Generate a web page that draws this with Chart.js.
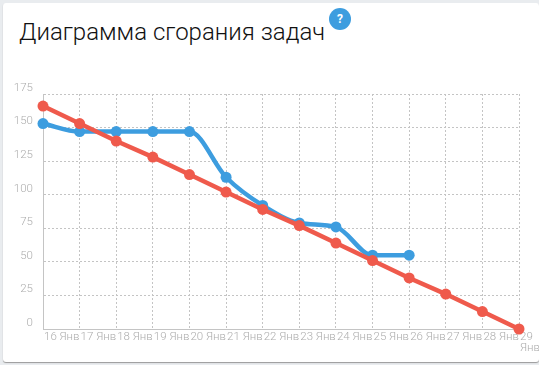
<!DOCTYPE html>
<html lang="ru">
<head>
<meta charset="utf-8">
<title>Диаграмма сгорания задач</title>
<script src="https://cdn.jsdelivr.net/npm/chart.js@4"></script>
<style>
  html, body { margin: 0; height: 100%; background: #e9ecef; overflow: hidden; }
  #card { position: absolute; left: 3px; top: 3px; width: 536px; height: 359px; background: #fff; border-radius: 3px; box-shadow: 0 1px 1px #999; }
  #title { position: absolute; left: 19px; top: 18px; font: 300 24px Roboto, sans-serif; color: #111; white-space: nowrap; }
  #help { position: absolute; left: 329px; top: 8px; width: 22px; height: 22px; border-radius: 50%; background: #3d9ddf; color: #fff; font: 700 12px/22px Roboto, sans-serif; text-align: center; }
  #chart { position: absolute; left: 0; top: 0; }
</style>
</head>
<body>
<div id="card"></div>
<div id="title">Диаграмма сгорания задач</div>
<div id="help">?</div>
<canvas id="chart" width="539" height="365"></canvas>
<script>
const days = ["16 Янв","17 Янв","18 Янв","19 Янв","20 Янв","21 Янв","22 Янв","23 Янв","24 Янв","25 Янв","26 Янв","27 Янв","28 Янв",["29","Янв"]];
const ideal = [166,153,140,128,115,102,89,77,64,51,38,26,13,0];
const actual = [153,147,147,147,147,113,92,79,76,55,55,null,null,null];
const yTicks = [0,25,50,75,100,125,150,175];

const RED = "#ef5a4c", BLUE = "#3d9ddf", TICK = "#adadad", GRID = "#c4c4c4";
const tickFont = { family: "Roboto", size: 11.5, weight: "300", lineHeight: 0.95 };

new Chart(document.getElementById("chart"), {
  type: "line",
  data: {
    labels: days,
    datasets: [
      { label: "ideal", data: ideal, borderColor: RED, backgroundColor: RED, borderWidth: 4.5, pointRadius: 5.5, pointBorderWidth: 0, tension: 0, clip: false },
      { label: "actual", data: actual, borderColor: BLUE, backgroundColor: BLUE, borderWidth: 4.5, pointRadius: 5.5, pointBorderWidth: 0, cubicInterpolationMode: "monotone", clip: false }
    ]
  },
  options: {
    responsive: false,
    animation: false,
    layout: { padding: { top: 94, right: 20, left: 0, bottom: 0 } },
    plugins: { legend: { display: false }, tooltip: { enabled: false } },
    scales: {
      x: {
        offset: false,
        grid: { color: GRID, drawTicks: false, tickLength: 0 },
        border: { dash: [2, 2], color: GRID },
        ticks: { color: TICK, font: tickFont, maxRotation: 0, autoSkip: false, padding: 3, align: "start", labelOffset: 1 },
        // the last label hangs past the plot, don't let it shrink the plot
        afterFit: (s) => { s.height = 36; s.paddingRight = 0; s.paddingLeft = 0; }
      },
      y: {
        min: 0,
        max: 175,
        afterBuildTicks: (s) => { s.ticks = yTicks.map((v) => ({ value: v })); },
        grid: { color: GRID, drawTicks: false, tickLength: 0 },
        border: { dash: [2, 2], color: GRID },
        ticks: { color: TICK, font: tickFont, padding: 10, labelOffset: -6 },
        afterFit: (s) => { s.width = 43; }
      }
    }
  }
});
</script>
</body>
</html>
